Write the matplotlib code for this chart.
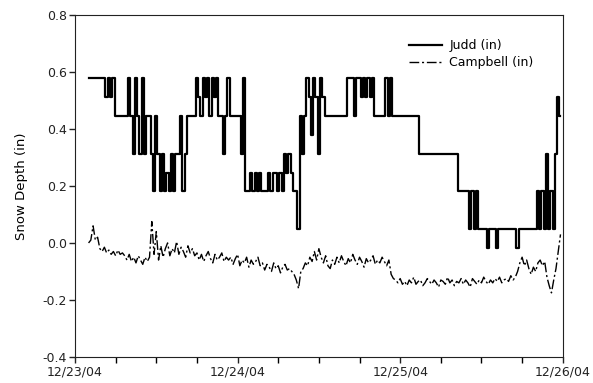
import numpy as np
import pandas as pd
import matplotlib
matplotlib.use("Agg")
import matplotlib.pyplot as plt
import matplotlib.dates as mdates

# snow depth readings every 20 min starting 12/23/04 02:00
judd_in = [
    0.577, 0.577, 0.577, 0.577, 0.577, 0.577, 0.577, 0.577,
    0.511, 0.577, 0.511, 0.577,
    0.445, 0.445, 0.445, 0.445, 0.445, 0.445,
    0.577, 0.445, 0.313, 0.577, 0.445, 0.313, 0.577, 0.313, 0.445, 0.445,
    0.313, 0.181, 0.445, 0.313,
    0.181, 0.313, 0.181, 0.247, 0.181, 0.313, 0.181,
    0.313, 0.313, 0.445, 0.181, 0.313,
    0.445, 0.445, 0.445, 0.445,
    0.577, 0.511, 0.445, 0.577, 0.511, 0.577, 0.445, 0.577, 0.511, 0.577, 0.445,
    0.445, 0.313, 0.445, 0.577,
    0.445, 0.445, 0.445, 0.445, 0.445, 0.313, 0.577,
    0.181, 0.181, 0.247, 0.181, 0.247, 0.181, 0.247, 0.181, 0.181, 0.181,
    0.247, 0.181, 0.247, 0.247, 0.181, 0.247, 0.181,
    0.313, 0.247, 0.313, 0.247, 0.181, 0.181,
    0.049, 0.445, 0.313, 0.445,
    0.577, 0.511, 0.379, 0.577, 0.511, 0.313, 0.577, 0.511, 0.445,
    0.445, 0.445, 0.445, 0.445, 0.445, 0.445, 0.445, 0.445, 0.445,
    0.577, 0.577, 0.577, 0.445, 0.577,
    0.577, 0.511, 0.577, 0.511, 0.577, 0.511, 0.577,
    0.445, 0.445, 0.445, 0.445, 0.445,
    0.577, 0.445, 0.577,
    0.445, 0.445, 0.445, 0.445, 0.445, 0.445, 0.445, 0.445, 0.445, 0.445, 0.445, 0.445,
    0.313, 0.313, 0.313, 0.313, 0.313, 0.313, 0.313, 0.313, 0.313, 0.313,
    0.313, 0.313, 0.313, 0.313, 0.313, 0.313, 0.313,
    0.181, 0.181, 0.181, 0.181, 0.181,
    0.049, 0.181, 0.049, 0.181, 0.049,
    0.049, 0.049, 0.049, -0.017, 0.049, 0.049, 0.049, -0.017,
    0.049, 0.049, 0.049, 0.049, 0.049, 0.049, 0.049, 0.049, -0.017,
    0.049, 0.049, 0.049, 0.049, 0.049, 0.049, 0.049, 0.049,
    0.181, 0.049, 0.181, 0.049, 0.313, 0.049, 0.181, 0.049, 0.313, 0.511, 0.445,
]

campbell_in = [
    0.00, 0.01, 0.06, 0.01, 0.02,
    -0.02, -0.03, -0.015, -0.035, -0.025, -0.04, -0.03, -0.045, -0.025, -0.04, -0.035,
    -0.045, -0.06, -0.04, -0.065, -0.05, -0.07, -0.045, -0.06, -0.075, -0.05, -0.065,
    -0.05, 0.075, -0.04, 0.04, -0.06,
    -0.01, -0.05, -0.02, 0.0, -0.045, -0.02, -0.035, 0.005, -0.04, -0.015,
    -0.03, -0.05, -0.01, -0.035, -0.02, -0.045,
    -0.035, -0.06, -0.04, -0.065, -0.045, -0.03, -0.055, -0.07, -0.04, -0.06,
    -0.05, -0.035, -0.065, -0.05, -0.06,
    -0.05, -0.075, -0.055, -0.04, -0.08, -0.06, -0.07, -0.05, -0.085, -0.06,
    -0.075, -0.065, -0.05, -0.08,
    -0.07, -0.095, -0.075, -0.085, -0.10, -0.07, -0.09, -0.08, -0.105, -0.085,
    -0.075, -0.095, -0.09, -0.10, -0.11,
    -0.13, -0.16, -0.10,
    -0.09, -0.07, -0.08, -0.05, -0.065, -0.03, -0.06, -0.02, -0.05, -0.07, -0.045, -0.08,
    -0.09, -0.06, -0.075, -0.05, -0.07, -0.045, -0.065, -0.08, -0.055, -0.07,
    -0.04, -0.06, -0.075, -0.05, -0.065, -0.085, -0.055, -0.07, -0.06, -0.045,
    -0.075, -0.06, -0.07, -0.05, -0.065, -0.08, -0.06,
    -0.11, -0.125,
    -0.13, -0.14, -0.125, -0.145, -0.135, -0.15, -0.13, -0.14, -0.12, -0.145,
    -0.135, -0.13, -0.15, -0.14, -0.125, -0.135, -0.145, -0.13, -0.14, -0.155,
    -0.13, -0.135, -0.145, -0.12, -0.14, -0.13, -0.15, -0.135, -0.14, -0.125,
    -0.145, -0.13, -0.14, -0.155, -0.125, -0.135, -0.145, -0.13, -0.14, -0.12,
    -0.135, -0.145, -0.13, -0.14, -0.125, -0.135, -0.12, -0.14, -0.13, -0.125,
    -0.135, -0.115, -0.13, -0.12,
    -0.10, -0.07, -0.05, -0.08, -0.06,
    -0.09, -0.11, -0.085, -0.10, -0.07,
    -0.06, -0.08, -0.065,
    -0.12, -0.15, -0.175, -0.13,
    -0.09, -0.03, 0.03,
]

start = "2004-12-23 02:00"
t_judd = pd.date_range(start, periods=len(judd_in), freq="20min")
t_camp = pd.date_range(start, periods=len(campbell_in), freq="20min")

plt.rcParams["font.family"] = ["DejaVu Sans"]
plt.rcParams["font.size"] = 9

fig = plt.figure(figsize=(5.93, 3.83), dpi=100)
ax = fig.add_axes([0.1265, 0.068, 0.8225, 0.893])

ax.plot(t_judd, judd_in, color="black", lw=1.6, drawstyle="steps-mid",
        label="Judd (in)")
ax.plot(t_camp, campbell_in, color="black", lw=1.0, linestyle=(0, (7, 2, 1.5, 2)),
        label="Campbell (in)")

ax.set_xlim(pd.Timestamp("2004-12-23"), pd.Timestamp("2004-12-26"))
ax.set_ylim(-0.4, 0.8)
ax.set_yticks(np.arange(-0.4, 0.81, 0.2))
ax.yaxis.set_major_formatter(plt.FormatStrFormatter("%.1f"))
ax.xaxis.set_major_locator(mdates.DayLocator())
ax.xaxis.set_minor_locator(mdates.HourLocator(byhour=[6, 12, 18]))
ax.xaxis.set_major_formatter(mdates.DateFormatter("%m/%d/%y"))
ax.tick_params(direction="out", length=4, width=1, pad=2, colors="#222222")
ax.tick_params(which="minor", direction="out", length=4, width=1)
for s in ax.spines.values():
    s.set_color("#222222")
ax.set_ylabel("Snow Depth (in)", fontsize=9.5, labelpad=10)

ax.legend(loc="upper left", bbox_to_anchor=(0.662, 0.962), frameon=False,
          handlelength=2.6, handletextpad=0.6, fontsize=9, labelspacing=0.3)

fig.savefig("out.png", dpi=100)
